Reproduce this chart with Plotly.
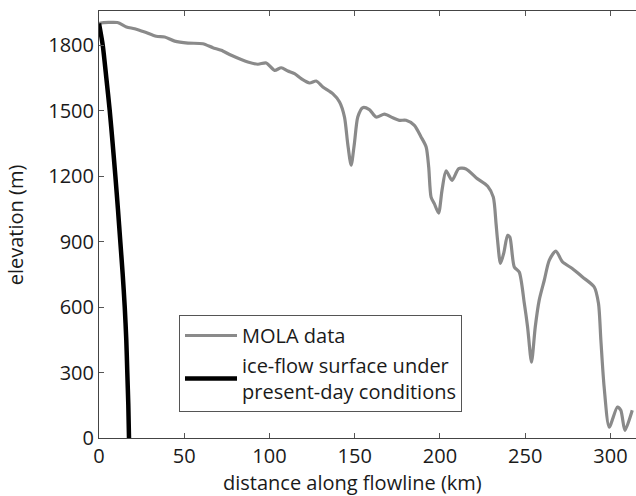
import plotly.graph_objects as go

# MOLA surface profile (distance km, elevation m)
mola_x = [0, 1.0, 10.8, 16.1, 20.9, 26.8, 33.6, 38.5, 44.4, 52.2, 60.9, 66.8, 71.7, 77.6,
          87.3, 93.2, 98.1, 103.0, 106.9, 110.8, 114.7, 118.6, 123.5, 127.4, 131.3, 137.1,
          141.1, 144.0, 145.9, 147.9, 149.8, 151.8, 154.7, 158.6, 162.6, 167.4, 172.3,
          176.2, 180.1, 185.0, 188.9, 191.9, 193.4, 194.8, 196.7, 199.2, 201.2, 203.6,
          207.1, 211.0, 215.3, 221.2, 228.0, 231.3, 232.9, 233.8, 235.5, 237.5, 239.7,
          241.0, 243.6, 246.5, 249.5, 251.4, 253.7, 255.9, 258.2, 261.2, 264.1, 268.0,
          271.9, 277.8, 283.6, 290.5, 293.0, 294.4, 296.3, 299.3, 304.1, 306.1, 308.5, 312.8]
mola_y = [1900, 1902, 1904, 1884, 1876, 1861, 1841, 1838, 1819, 1810, 1807, 1789, 1777, 1754,
          1723, 1713, 1719, 1685, 1697, 1682, 1670, 1647, 1627, 1636, 1609, 1578,
          1540, 1471, 1349, 1250, 1349, 1471, 1514, 1505, 1471, 1484, 1468,
          1456, 1456, 1433, 1380, 1334, 1242, 1104, 1074, 1031, 1135, 1224,
          1181, 1235, 1233, 1193, 1154, 1104, 983, 906, 800, 850, 929,
          921, 784, 761, 616, 509, 348, 509, 631, 723, 814, 857,
          807, 776, 738, 692, 616, 448, 234, 50, 142, 127, 35, 127]

# modelled ice-flow surface under present-day conditions
ice_x = [0, 2.2, 4.3, 6.3, 8.0, 9.6, 11.1, 12.5, 13.9, 15.1, 16.0, 16.6, 17.2, 17.6]
ice_y = [1900, 1800, 1650, 1500, 1350, 1200, 1050, 900, 750, 600, 450, 300, 150, 0]

x_ticks = [0, 50, 100, 150, 200, 250, 300]
y_ticks = [0, 300, 600, 900, 1200, 1500, 1800]

FONT = "Open Sans"

fig = go.Figure()
fig.add_trace(go.Scatter(x=mola_x, y=mola_y, mode="lines", name="MOLA data", legendgroup="a",
                         line=dict(color="#8a8a8a", width=3.2, shape="spline", smoothing=0.7)))
fig.add_trace(go.Scatter(x=ice_x, y=ice_y, mode="lines", legendgroup="b",
                         name="ice-flow surface under<br>present-day conditions",
                         line=dict(color="#000000", width=4.5, shape="spline", smoothing=0.6)))

axis_common = dict(showgrid=False, zeroline=False, showline=True, linecolor="#444444",
                   linewidth=1, ticks="inside", ticklen=5, tickcolor="#555555",
                   tickfont=dict(family=FONT, size=20, color="#1a1a1a"))

fig.update_xaxes(range=[0, 315], tickvals=x_ticks, mirror="ticks", **axis_common)
fig.update_yaxes(range=[0, 1957], tickvals=y_ticks, **axis_common)

fig.update_layout(
    width=636, height=496,
    margin=dict(l=99, r=0, t=11, b=58),
    plot_bgcolor="white", paper_bgcolor="white",
    showlegend=True,
    legend=dict(x=(179 - 99) / 537, y=(438 - 315) / 427, xanchor="left", yanchor="top",
                bordercolor="#555555", borderwidth=1, bgcolor="white",
                traceorder="grouped", tracegroupgap=1,
                entrywidth=270, entrywidthmode="pixels",
                font=dict(family=FONT, size=20, color="#1a1a1a"), itemwidth=52),
    annotations=[
        dict(text="distance along flowline (km)", xref="paper", yref="paper",
             x=(352 - 99) / 537, y=-0.105, xanchor="center", yanchor="middle",
             showarrow=False, font=dict(family=FONT, size=20, color="#1a1a1a")),
        dict(text="elevation (m)", xref="paper", yref="paper",
             x=-0.155, y=0.5, xanchor="center", yanchor="middle", textangle=-90,
             showarrow=False, font=dict(family=FONT, size=20, color="#1a1a1a")),
    ],
)

fig.write_html("out.html")
